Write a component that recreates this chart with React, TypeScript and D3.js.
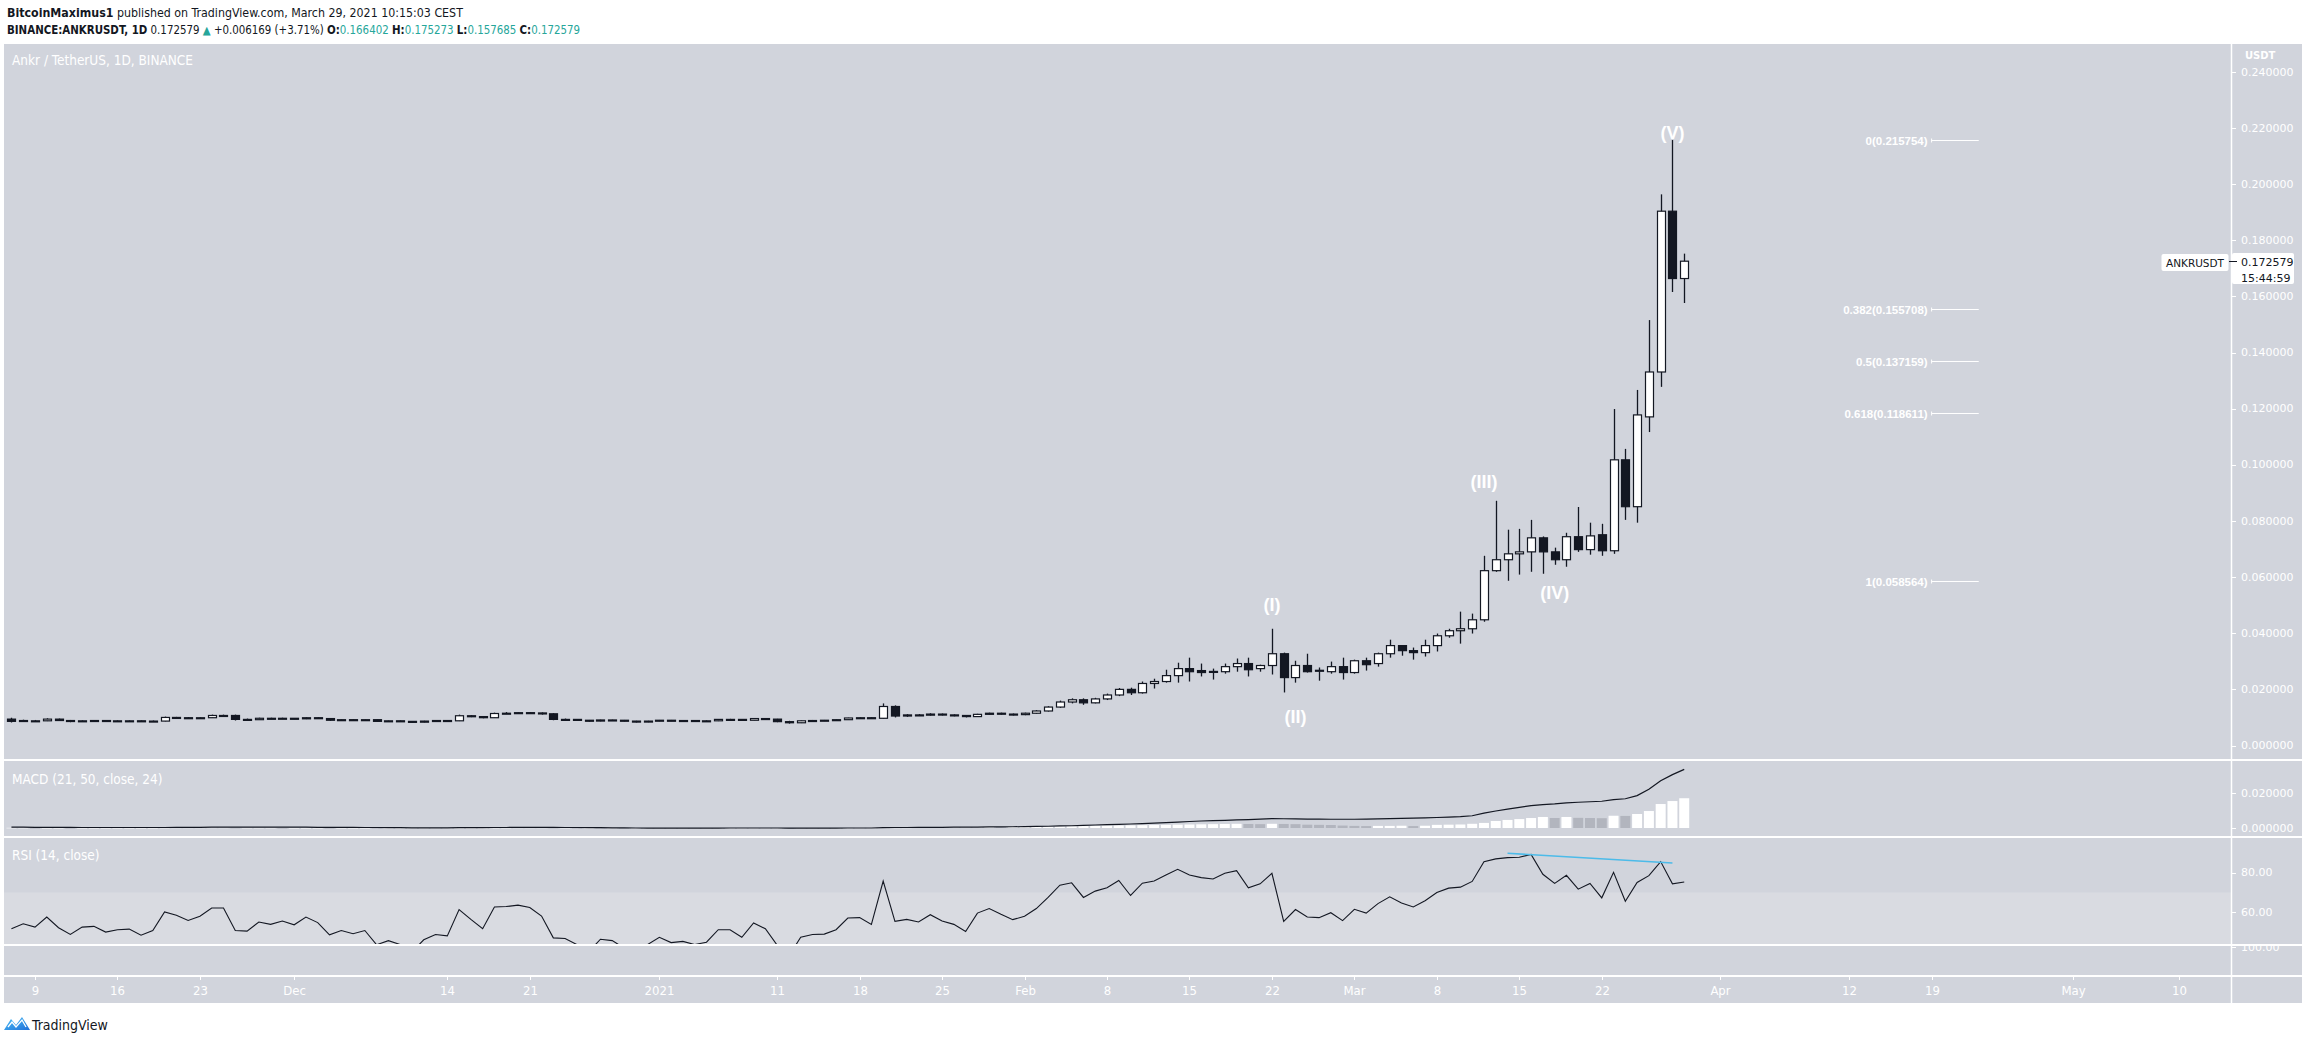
import React from "react";
import * as d3 from "d3";

const W = 2308;
const H = 1041;
const DARK = "#131722";
const BG = "#d1d4dc";
const BAND = "#d9dbe1";
const WHITE = "#ffffff";
const HIST_FALL = "#b2b5be";
const TEAL = "#26a69a";
const NARROW = "'Liberation Sans Narrow', 'DejaVu Sans Condensed', 'Liberation Sans', sans-serif";
const SANS = "'Liberation Sans', Arial, sans-serif";
const AXISF = "'DejaVu Sans', Verdana, sans-serif";

const FIRST_DAY = Date.UTC(2020, 10, 7);
const DAY_MS = 86400000;

// Daily candles, Nov 7 2020 .. Mar 29 2021
const opens = [
  0.0094, 0.0089, 0.0087, 0.0088, 0.0094, 0.0089, 0.0086, 0.0088, 0.0089, 0.0087, 0.0088, 0.0088, 0.0086,
  0.0087, 0.0100, 0.0099, 0.0097, 0.0099, 0.0107, 0.0107, 0.0093, 0.0092, 0.0097, 0.0095, 0.0097, 0.0095, 0.0099, 0.0096, 0.0090, 0.0092, 0.0090, 0.0092, 0.0086,
  0.0088, 0.0086, 0.0083, 0.0087, 0.0089, 0.0088, 0.0106, 0.0103, 0.0099, 0.0114, 0.0115, 0.0117, 0.0116, 0.0113, 0.0093, 0.0093, 0.0090, 0.0087, 0.0091, 0.0090,
  0.0087, 0.0084, 0.0087, 0.0090, 0.0088, 0.0089, 0.0087, 0.0088, 0.0093, 0.0093, 0.0090, 0.0096, 0.0094, 0.0085, 0.0081, 0.0088, 0.0089, 0.0090, 0.0092, 0.0098,
  0.0099, 0.0097, 0.0139, 0.0105, 0.0109, 0.0108, 0.0112, 0.0109, 0.0107, 0.0103, 0.0111,
  0.0115, 0.0112, 0.0110, 0.0115, 0.0123, 0.0137, 0.0155, 0.0163, 0.0152, 0.0166, 0.0180, 0.0200, 0.0188,
  0.0221, 0.0228, 0.0249, 0.0274, 0.0267, 0.0262, 0.0263, 0.0281, 0.0292, 0.0274, 0.0285, 0.0327, 0.0242, 0.0285, 0.0266, 0.0263, 0.0281,
  0.0260, 0.0302, 0.0292, 0.0327, 0.0356, 0.0338, 0.0331, 0.0356, 0.0391, 0.0409, 0.0416, 0.0448, 0.0623, 0.0662, 0.0683, 0.0690, 0.0740,
  0.0690, 0.0662, 0.0744, 0.0698, 0.0751, 0.0694, 0.1018, 0.0851, 0.1171, 0.1331, 0.1904, 0.166402,
];
const highs = [
  0.0099, 0.0092, 0.0091, 0.0097, 0.0096, 0.0091, 0.0090, 0.0090, 0.0090, 0.0090, 0.0090, 0.0089, 0.0089,
  0.0103, 0.0102, 0.0101, 0.0101, 0.0110, 0.0110, 0.0110, 0.0096, 0.0099, 0.0099, 0.0099, 0.0098, 0.0101, 0.0100, 0.0097, 0.0093, 0.0093, 0.0093, 0.0092, 0.0089,
  0.0089, 0.0087, 0.0088, 0.0090, 0.0090, 0.0110, 0.0108, 0.0104, 0.0117, 0.0119, 0.0119, 0.0119, 0.0118, 0.0115, 0.0096, 0.0094, 0.0091, 0.0092, 0.0092, 0.0091,
  0.0088, 0.0088, 0.0091, 0.0091, 0.0090, 0.0090, 0.0090, 0.0094, 0.0095, 0.0094, 0.0097, 0.0098, 0.0095, 0.0088, 0.0089, 0.0091, 0.0091, 0.0093, 0.0099, 0.0101,
  0.0100, 0.0150, 0.0143, 0.0112, 0.0112, 0.0115, 0.0114, 0.0111, 0.0108, 0.0113, 0.0117,
  0.0117, 0.0114, 0.0117, 0.0126, 0.0140, 0.0160, 0.0168, 0.0168, 0.0170, 0.0185, 0.0205, 0.0206, 0.0228,
  0.0238, 0.0270, 0.0295, 0.0313, 0.0292, 0.0274, 0.0292, 0.0310, 0.0313, 0.0288, 0.0416, 0.0331, 0.0302, 0.0327, 0.0278, 0.0299, 0.0313,
  0.0306, 0.0313, 0.0331, 0.0377, 0.0358, 0.0349, 0.0377, 0.0399, 0.0416, 0.0477, 0.0470, 0.0676, 0.0872, 0.0769, 0.0772, 0.0804, 0.0745,
  0.0705, 0.0758, 0.0850, 0.0794, 0.0790, 0.1199, 0.1057, 0.1267, 0.1516, 0.1964, 0.215754, 0.175273,
];
const lows = [
  0.0082, 0.0085, 0.0085, 0.0087, 0.0088, 0.0083, 0.0085, 0.0086, 0.0085, 0.0086, 0.0086, 0.0084, 0.0085,
  0.0086, 0.0096, 0.0095, 0.0096, 0.0098, 0.0104, 0.0089, 0.0090, 0.0091, 0.0094, 0.0094, 0.0094, 0.0094, 0.0095, 0.0088, 0.0089, 0.0089, 0.0089, 0.0085, 0.0085,
  0.0085, 0.0082, 0.0082, 0.0086, 0.0087, 0.0087, 0.0101, 0.0097, 0.0098, 0.0112, 0.0113, 0.0113, 0.0110, 0.0090, 0.0091, 0.0088, 0.0085, 0.0086, 0.0088, 0.0086,
  0.0082, 0.0083, 0.0086, 0.0087, 0.0087, 0.0086, 0.0086, 0.0087, 0.0091, 0.0089, 0.0090, 0.0092, 0.0083, 0.0078, 0.0080, 0.0086, 0.0087, 0.0088, 0.0091, 0.0096,
  0.0095, 0.0096, 0.0100, 0.0102, 0.0105, 0.0106, 0.0107, 0.0104, 0.0100, 0.0102, 0.0109,
  0.0110, 0.0107, 0.0108, 0.0113, 0.0121, 0.0134, 0.0150, 0.0145, 0.0150, 0.0162, 0.0176, 0.0180, 0.0185,
  0.0203, 0.0224, 0.0224, 0.0228, 0.0246, 0.0235, 0.0256, 0.0263, 0.0246, 0.0263, 0.0253, 0.0189, 0.0224, 0.0260, 0.0231, 0.0256, 0.0235,
  0.0256, 0.0267, 0.0281, 0.0313, 0.0320, 0.0306, 0.0317, 0.0335, 0.0384, 0.0363, 0.0399, 0.0441, 0.0619, 0.0587, 0.0609, 0.0619, 0.0612,
  0.0644, 0.0637, 0.0690, 0.0680, 0.0676, 0.0683, 0.0804, 0.0794, 0.1117, 0.1278, 0.1616, 0.157685,
];
const closes = [
  0.0086, 0.0087, 0.0088, 0.0094, 0.0089, 0.0086, 0.0088, 0.0089, 0.0087, 0.0088, 0.0088, 0.0086, 0.0087,
  0.0100, 0.0099, 0.0097, 0.0099, 0.0107, 0.0107, 0.0093, 0.0092, 0.0097, 0.0095, 0.0097, 0.0095, 0.0099, 0.0096, 0.0090, 0.0092, 0.0090, 0.0092, 0.0086, 0.0088,
  0.0086, 0.0083, 0.0087, 0.0089, 0.0088, 0.0106, 0.0103, 0.0099, 0.0114, 0.0115, 0.0117, 0.0116, 0.0113, 0.0093, 0.0093, 0.0090, 0.0087, 0.0091, 0.0090, 0.0087,
  0.0084, 0.0087, 0.0090, 0.0088, 0.0089, 0.0087, 0.0088, 0.0093, 0.0093, 0.0090, 0.0096, 0.0094, 0.0085, 0.0081, 0.0088, 0.0089, 0.0090, 0.0092, 0.0098, 0.0099,
  0.0097, 0.0139, 0.0105, 0.0109, 0.0108, 0.0112, 0.0109, 0.0107, 0.0103, 0.0111, 0.0115,
  0.0112, 0.0110, 0.0115, 0.0123, 0.0137, 0.0155, 0.0163, 0.0152, 0.0166, 0.0180, 0.0200, 0.0188, 0.0221,
  0.0228, 0.0249, 0.0274, 0.0263, 0.0260, 0.0264, 0.0281, 0.0292, 0.0270, 0.0285, 0.0327, 0.0242, 0.0285, 0.0263, 0.0268, 0.0281, 0.0260,
  0.0302, 0.0288, 0.0327, 0.0356, 0.0338, 0.0331, 0.0356, 0.0391, 0.0409, 0.0416, 0.0448, 0.0623, 0.0662, 0.0683, 0.0690, 0.0740, 0.0690,
  0.0662, 0.0744, 0.0698, 0.0747, 0.0694, 0.1018, 0.0851, 0.1178, 0.1331, 0.1904, 0.1664, 0.172579,
];

const rsiValues = [
  51.7, 54.2, 52.5, 57.6, 52.2, 48.8, 52.5, 52.9, 50.0, 51.2, 51.5, 48.4, 50.8,
  60.2, 58.5, 55.9, 58.0, 62.2, 62.2, 50.8, 50.5, 55.1, 53.9, 55.6, 53.7, 57.6, 54.8, 48.6, 50.8, 49.2, 50.8, 43.6, 45.7,
  43.7, 40.0, 46.1, 48.8, 48.1, 61.4, 56.4, 51.7, 62.7, 62.9, 63.6, 62.4, 58.1, 47.1, 46.8, 43.7, 40.0, 46.4, 45.7, 42.0,
  38.0, 43.7, 47.4, 44.7, 45.3, 43.7, 44.9, 51.2, 51.2, 47.4, 54.6, 51.7, 43.4, 38.0, 47.4, 48.8, 49.0, 51.2, 57.1, 57.3,
  53.9, 75.8, 55.4, 56.4, 55.1, 58.8, 55.6, 53.9, 50.3, 59.6, 61.9,
  59.0, 56.3, 58.0, 61.9, 67.5, 73.7, 74.9, 67.5, 70.7, 72.4, 76.1, 68.5, 74.7,
  75.8, 78.8, 81.7, 78.8, 77.5, 76.8, 79.7, 81.0, 72.4, 74.4, 79.7, 55.4, 61.4, 57.6, 57.3, 59.8, 55.8,
  61.5, 59.6, 64.4, 67.8, 64.7, 62.7, 65.8, 70.0, 72.2, 72.7, 75.6, 85.6, 87.0, 87.6, 87.8, 89.2, 79.2,
  74.6, 78.7, 71.7, 74.6, 67.3, 80.2, 65.6, 75.1, 78.5, 85.6, 74.4, 75.3,
];

const macdLine = [
  0.0005, 0.0005, 0.0004, 0.0004, 0.0004, 0.0004, 0.0003, 0.0003, 0.0003, 0.0003, 0.0003, 0.0003, 0.0003,
  0.0003, 0.0004, 0.0004, 0.0004, 0.0005, 0.0005, 0.0005, 0.0005, 0.0005, 0.0005, 0.0005, 0.0005, 0.0005, 0.0004, 0.0004, 0.0004, 0.0004, 0.0003, 0.0003, 0.0002,
  0.0002, 0.0001, 0.0001, 0.0001, 0.0001, 0.0002, 0.0002, 0.0002, 0.0003, 0.0003, 0.0004, 0.0004, 0.0004, 0.0004, 0.0003, 0.0003, 0.0002, 0.0002, 0.0001, 0.0001,
  0.0000, -0.0001, -0.0001, -0.0001, -0.0001, -0.0001, -0.0001, -0.0001, 0.0000, 0.0000, 0.0000, 0.0000, 0.0000, -0.0001, -0.0001, -0.0001, -0.0001, -0.0001, 0.0000, 0.0000,
  0.0000, 0.0002, 0.0003, 0.0003, 0.0004, 0.0004, 0.0004, 0.0005, 0.0005, 0.0005, 0.0006,
  0.0006, 0.0007, 0.0008, 0.0009, 0.0010, 0.0012, 0.0013, 0.0015, 0.0017, 0.0019, 0.0021, 0.0023, 0.0025,
  0.0028, 0.0031, 0.0034, 0.0037, 0.0040, 0.0042, 0.0044, 0.0046, 0.0048, 0.0051, 0.0054, 0.0053, 0.0052, 0.0051, 0.0051, 0.0050, 0.0050,
  0.0050, 0.0051, 0.0052, 0.0054, 0.0055, 0.0056, 0.0058, 0.0060, 0.0062, 0.0065, 0.0070, 0.0085, 0.0097, 0.0108, 0.0118, 0.0128, 0.0134,
  0.0138, 0.0144, 0.0147, 0.0150, 0.0153, 0.0162, 0.0167, 0.0185, 0.0221, 0.0270, 0.0305, 0.0335,
];

const macdHist = [
  0.0001, 0.0001, 0.0000, 0.0000, 0.0000, -0.0001, -0.0001, -0.0001, 0.0000, 0.0000, 0.0000, 0.0000, 0.0000,
  0.0001, 0.0002, 0.0002, 0.0002, 0.0002, 0.0002, 0.0001, 0.0001, 0.0001, 0.0001, 0.0000, 0.0000, 0.0000, 0.0000, -0.0001, -0.0001, -0.0001, -0.0001, -0.0002, -0.0002,
  -0.0002, -0.0002, -0.0002, -0.0002, -0.0002, -0.0001, -0.0001, 0.0000, 0.0001, 0.0001, 0.0002, 0.0002, 0.0002, 0.0001, 0.0001, 0.0000, 0.0000, -0.0001, -0.0001, -0.0002,
  -0.0002, -0.0002, -0.0002, -0.0002, -0.0001, -0.0001, -0.0001, -0.0001, 0.0000, 0.0000, 0.0000, 0.0000, 0.0000, -0.0001, -0.0001, -0.0001, -0.0001, 0.0000, 0.0000, 0.0001,
  0.0001, 0.0002, 0.0002, 0.0002, 0.0003, 0.0003, 0.0003, 0.0003, 0.0004, 0.0004, 0.0005,
  0.0004, 0.0005, 0.0006, 0.0007, 0.0008, 0.0009, 0.0010, 0.0011, 0.0012, 0.0013, 0.0014, 0.0015, 0.0016,
  0.0017, 0.0018, 0.0019, 0.0020, 0.0021, 0.0022, 0.0023, 0.0024, 0.0023, 0.0022, 0.0024, 0.0023, 0.0022, 0.0019, 0.0018, 0.0017, 0.0014,
  0.0012, 0.0011, 0.0012, 0.0012, 0.0013, 0.0011, 0.0013, 0.0018, 0.0019, 0.0020, 0.0024, 0.0029, 0.0040, 0.0046, 0.0051, 0.0057, 0.0063,
  0.0057, 0.0063, 0.0058, 0.0057, 0.0056, 0.0070, 0.0069, 0.0080, 0.0097, 0.0137, 0.0154, 0.0170,
];

const timeTickDates = [
  "2020-11-09", "2020-11-16", "2020-11-23", "2020-12-01", "2020-12-14", "2020-12-21", "2021-01-01",
  "2021-01-11", "2021-01-18", "2021-01-25", "2021-02-01", "2021-02-08", "2021-02-15", "2021-02-22",
  "2021-03-01", "2021-03-08", "2021-03-15", "2021-03-22", "2021-04-01", "2021-04-12", "2021-04-19",
  "2021-05-01", "2021-05-10",
];
const timeTickLabels = [
  "9", "16", "23", "Dec", "14", "21", "2021", "11", "18", "25", "Feb", "8", "15", "22",
  "Mar", "8", "15", "22", "Apr", "12", "19", "May", "10",
];
const priceTicks = [0, 0.02, 0.04, 0.06, 0.08, 0.1, 0.12, 0.14, 0.16, 0.18, 0.2, 0.22, 0.24];
const macdTicks = [0, 0.02];
const rsiTicks = [60, 80];

const fibRatios = ["0", "0.382", "0.5", "0.618", "1"];
const fibPrices = [0.215754, 0.155708, 0.137159, 0.118611, 0.058564];
const fibStart = "2021-04-19";
const fibEnd = "2021-04-23";

const waveTexts = ["(I)", "(II)", "(III)", "(IV)", "(V)"];
const waveDates = ["2021-02-22", "2021-02-24", "2021-03-12", "2021-03-18", "2021-03-28"];
const wavePrices = [0.05, 0.0102, 0.0939, 0.0543, 0.2183];

const rsiTrendDates = ["2021-03-14", "2021-03-28"];
const rsiTrendValues = [89.8, 84.9];

const LEFT = 4;
const RIGHT = 2302;
const AXIS_X = 2231;
const TOP = 44;
const MAIN_BOTTOM = 760;
const MACD_BOTTOM = 837;
const RSI_BOTTOM = 945;
const EXTRA_BOTTOM = 976;
const BOTTOM = 1003;

const utc = (s: string) => new Date(s + "T00:00:00Z");

export default function App() {
  const dates = opens.map((_, i) => new Date(FIRST_DAY + i * DAY_MS));
  const x = d3.scaleUtc().domain([utc("2020-11-09"), utc("2021-05-10")]).range([35, 2179]);
  const yP = d3.scaleLinear().domain([0, 0.24]).range([745.5, 72]);
  const yM = d3.scaleLinear().domain([0, 0.02]).range([828, 793]);
  const yR = d3.scaleLinear().domain([60, 80]).range([912.3, 872.7]);
  const fmt6 = d3.format(".6f");
  const fmt2 = d3.format(".2f");

  const macdPath = d3
    .line<number>()
    .x((_, i) => x(dates[i]))
    .y((v) => yM(v))(macdLine) as string;
  const rsiPath = d3
    .line<number>()
    .x((_, i) => x(dates[i]))
    .y((v) => yR(v))(rsiValues) as string;

  const barW = 8;
  const crisp = (v: number) => Math.round(v) + 0.5;
  const lastClose = closes[closes.length - 1];

  return (
    <div style={{ position: "absolute", left: 0, top: 0 }}>
      <svg width={W} height={H} style={{ display: "block", background: "#fff" }}>
        <defs>
          <clipPath id="mainClip">
            <rect x={LEFT} y={TOP} width={AXIS_X - LEFT} height={MAIN_BOTTOM - TOP} />
          </clipPath>
          <clipPath id="macdClip">
            <rect x={LEFT} y={MAIN_BOTTOM + 1} width={AXIS_X - LEFT} height={MACD_BOTTOM - MAIN_BOTTOM - 2} />
          </clipPath>
          <clipPath id="rsiClip">
            <rect x={LEFT} y={MACD_BOTTOM + 1} width={AXIS_X - LEFT} height={RSI_BOTTOM - MACD_BOTTOM - 2} />
          </clipPath>
          <clipPath id="extraClip">
            <rect x={AXIS_X} y={RSI_BOTTOM + 1} width={RIGHT - AXIS_X} height={EXTRA_BOTTOM - RSI_BOTTOM - 1} />
          </clipPath>
          <linearGradient id="tvLogo" x1="0" y1="0" x2="1" y2="1">
            <stop offset="0" stopColor="#4fc3f7" />
            <stop offset="1" stopColor="#1e6fd9" />
          </linearGradient>
        </defs>

        {/* header */}
        <text x={7} y={17} fontFamily={NARROW} fontSize={12.3} fill={DARK}>
          <tspan fontWeight="bold">BitcoinMaximus1</tspan>
          <tspan> published on TradingView.com, March 29, 2021 10:15:03 CEST</tspan>
        </text>
        <text x={7} y={34} fontFamily={NARROW} fontSize={11.4} fill={DARK}>
          <tspan fontWeight="bold">BINANCE:ANKRUSDT, 1D</tspan>
          <tspan> 0.172579 </tspan>
          <tspan fill={TEAL}>▲</tspan>
          <tspan> +0.006169 (+3.71%) </tspan>
          <tspan fontWeight="bold">O:</tspan>
          <tspan fill={TEAL}>0.166402 </tspan>
          <tspan fontWeight="bold">H:</tspan>
          <tspan fill={TEAL}>0.175273 </tspan>
          <tspan fontWeight="bold">L:</tspan>
          <tspan fill={TEAL}>0.157685 </tspan>
          <tspan fontWeight="bold">C:</tspan>
          <tspan fill={TEAL}>0.172579</tspan>
        </text>

        {/* panel background */}
        <rect x={LEFT} y={TOP} width={RIGHT - LEFT} height={BOTTOM - TOP} fill={BG} />
        <rect x={LEFT} y={yR(70)} width={AXIS_X - LEFT} height={RSI_BOTTOM - yR(70)} fill={BAND} />

        {/* separators */}
        {[MAIN_BOTTOM, MACD_BOTTOM, RSI_BOTTOM, EXTRA_BOTTOM].map((yy) => (
          <line key={yy} x1={LEFT} x2={RIGHT} y1={yy} y2={yy} stroke={WHITE} strokeWidth={2} />
        ))}
        <line x1={AXIS_X + 0.5} x2={AXIS_X + 0.5} y1={TOP} y2={BOTTOM} stroke={WHITE} strokeWidth={1.5} />

        {/* pane titles */}
        <text x={12} y={65} fontFamily={NARROW} fontSize={13.5} fill={WHITE}>Ankr / TetherUS, 1D, BINANCE</text>
        <text x={12} y={784} fontFamily={NARROW} fontSize={13.5} fill={WHITE}>MACD (21, 50, close, 24)</text>
        <text x={12} y={860} fontFamily={NARROW} fontSize={13.5} fill={WHITE}>RSI (14, close)</text>

        {/* candles */}
        <g clipPath="url(#mainClip)">
          {dates.map((dt, i) => {
            const cx = crisp(x(dt));
            const o = opens[i];
            const c = closes[i];
            const up = c >= o;
            const yTop = yP(Math.max(o, c));
            const yBot = yP(Math.min(o, c));
            const bh = Math.max(1, yBot - yTop);
            return (
              <g key={i}>
                <line x1={cx} x2={cx} y1={yP(highs[i])} y2={yP(lows[i])} stroke={DARK} strokeWidth={1.3} />
                <rect
                  x={cx - barW / 2}
                  y={yTop}
                  width={barW}
                  height={bh}
                  fill={up ? WHITE : DARK}
                  stroke={DARK}
                  strokeWidth={1.2}
                />
              </g>
            );
          })}
        </g>

        {/* Elliott wave labels */}
        {waveTexts.map((t, i) => (
          <text
            key={t}
            x={x(utc(waveDates[i]))}
            y={yP(wavePrices[i])}
            textAnchor="middle"
            dominantBaseline="central"
            fontFamily={SANS}
            fontWeight="bold"
            fontSize={18}
            fill={WHITE}
          >
            {t}
          </text>
        ))}

        {/* Fibonacci levels */}
        {fibPrices.map((p, i) => {
          const yy = crisp(yP(p));
          const x1 = x(utc(fibStart));
          const x2 = x(utc(fibEnd));
          return (
            <g key={i}>
              <line x1={x1} x2={x2} y1={yy} y2={yy} stroke={WHITE} strokeWidth={1} />
              <line x1={x1} x2={x1} y1={yy - 2} y2={yy + 2} stroke={WHITE} strokeWidth={1} />
              <text
                x={x1 - 4}
                y={yy}
                textAnchor="end"
                dominantBaseline="central"
                fontFamily={SANS}
                fontWeight="bold"
                fontSize={11.5}
                fill={WHITE}
              >
                {`${fibRatios[i]}(${fmt6(p)})`}
              </text>
            </g>
          );
        })}

        {/* price axis */}
        <text x={2245} y={59} fontFamily={AXISF} fontSize={10} fontWeight="bold" fill={WHITE}>USDT</text>
        {priceTicks.map((p) => (
          <g key={p}>
            <line x1={AXIS_X} x2={AXIS_X + 5} y1={crisp(yP(p))} y2={crisp(yP(p))} stroke={WHITE} strokeWidth={1} />
            <text x={2241} y={yP(p)} dominantBaseline="central" fontFamily={AXISF} fontSize={11} fill={WHITE}>
              {fmt6(p)}
            </text>
          </g>
        ))}

        {/* current price */}
        <rect x={2161.5} y={254} width={67} height={17} rx={2} fill={WHITE} />
        <text x={2195} y={262.5} textAnchor="middle" dominantBaseline="central" fontFamily={AXISF} fontSize={10.5} fill={DARK}>
          ANKRUSDT
        </text>
        <rect x={AXIS_X + 1} y={253} width={62} height={31} rx={2} fill={WHITE} />
        <line x1={2229} x2={2237} y1={crisp(yP(lastClose))} y2={crisp(yP(lastClose))} stroke={DARK} strokeWidth={1} />
        <text x={2241} y={yP(lastClose) + 1} dominantBaseline="central" fontFamily={AXISF} fontSize={11} fill={DARK}>
          {fmt6(lastClose)}
        </text>
        <text x={2241} y={278} dominantBaseline="central" fontFamily={AXISF} fontSize={11} fill={DARK}>15:44:59</text>

        {/* MACD pane */}
        <g clipPath="url(#macdClip)">
          {macdHist.map((v, i) => {
            const prev = i > 0 ? macdHist[i - 1] : v;
            const rising = v >= prev;
            const y0 = yM(0);
            const y1 = yM(v);
            return (
              <rect
                key={i}
                x={x(dates[i]) - 5}
                y={Math.min(y0, y1)}
                width={10}
                height={Math.max(0.5, Math.abs(y1 - y0))}
                fill={rising ? WHITE : HIST_FALL}
              />
            );
          })}
          <path d={macdPath} fill="none" stroke={DARK} strokeWidth={1.2} />
        </g>
        {macdTicks.map((v) => (
          <g key={v}>
            <line x1={AXIS_X} x2={AXIS_X + 5} y1={crisp(yM(v))} y2={crisp(yM(v))} stroke={WHITE} strokeWidth={1} />
            <text x={2241} y={yM(v)} dominantBaseline="central" fontFamily={AXISF} fontSize={11} fill={WHITE}>
              {fmt6(v)}
            </text>
          </g>
        ))}

        {/* RSI pane */}
        <g clipPath="url(#rsiClip)">
          <path d={rsiPath} fill="none" stroke={DARK} strokeWidth={1.1} />
          <line
            x1={x(utc(rsiTrendDates[0]))}
            x2={x(utc(rsiTrendDates[1]))}
            y1={yR(rsiTrendValues[0])}
            y2={yR(rsiTrendValues[1])}
            stroke="#4cbbe9"
            strokeWidth={1.6}
          />
        </g>
        {rsiTicks.map((v) => (
          <g key={v}>
            <line x1={AXIS_X} x2={AXIS_X + 5} y1={crisp(yR(v))} y2={crisp(yR(v))} stroke={WHITE} strokeWidth={1} />
            <text x={2241} y={yR(v)} dominantBaseline="central" fontFamily={AXISF} fontSize={11} fill={WHITE}>
              {fmt2(v)}
            </text>
          </g>
        ))}
        <g clipPath="url(#extraClip)">
          <line x1={AXIS_X} x2={AXIS_X + 5} y1={RSI_BOTTOM + 2.5} y2={RSI_BOTTOM + 2.5} stroke={WHITE} strokeWidth={1} />
          <text x={2241} y={RSI_BOTTOM + 2} dominantBaseline="central" fontFamily={AXISF} fontSize={11} fill={WHITE}>
            {fmt2(100)}
          </text>
        </g>

        {/* time axis */}
        {timeTickDates.map((s, i) => {
          const tx = crisp(x(utc(s)));
          return (
            <g key={s}>
              <line x1={tx} x2={tx} y1={EXTRA_BOTTOM} y2={EXTRA_BOTTOM + 4} stroke={WHITE} strokeWidth={1} />
              <text x={tx} y={990} textAnchor="middle" dominantBaseline="central" fontFamily={NARROW} fontSize={13} fill={WHITE}>
                {timeTickLabels[i]}
              </text>
            </g>
          );
        })}

        {/* TradingView logo */}
        <path d="M4 1030 L11 1019 L16 1025 L22 1017 L30 1030 Z" fill="url(#tvLogo)" />
        <path d="M8 1027 L12 1022 L16 1027 L22 1020 L26 1027" fill="none" stroke={WHITE} strokeWidth={1.3} />
        <text x={32} y={1025} dominantBaseline="central" fontFamily={NARROW} fontSize={14} fill={DARK}>TradingView</text>
      </svg>
    </div>
  );
}
